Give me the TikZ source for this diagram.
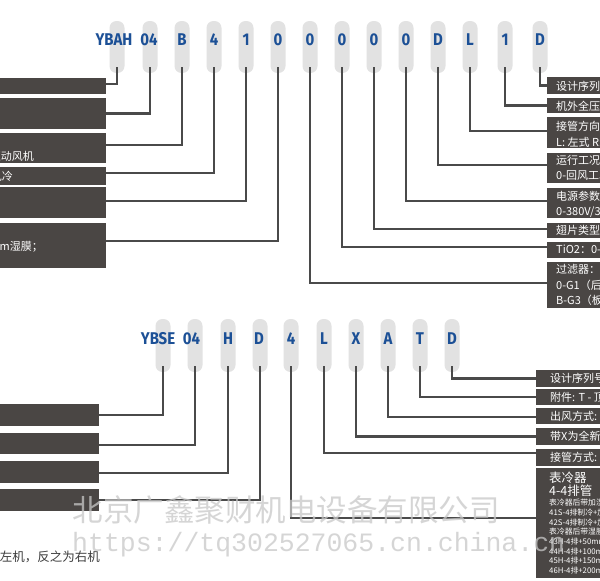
\documentclass[tikz,border=0pt]{standalone}
\usepackage{fontspec}
\usepackage{graphicx}
\setmainfont{Fira Sans}
\newfontfamily\cjk{Noto Sans CJK SC}
\newfontfamily\wmmono{Liberation Mono}
\definecolor{boxc}{RGB}{74,70,68}
\definecolor{linec}{RGB}{74,74,74}
\definecolor{pillc}{RGB}{226,226,226}
\definecolor{codec}{RGB}{28,80,150}
\definecolor{notec}{RGB}{60,60,60}
\definecolor{wmc}{RGB}{200,200,200}
\newcommand\codetxt[1]{\scalebox{0.88}[1]{#1}}
\tikzset{
  pill/.style={fill=pillc, rounded corners=7pt, minimum width=15pt, inner sep=0pt, draw=none},
  toppill/.style={pill, minimum height=52pt},
  botpill/.style={pill, minimum height=53pt},
  code/.style={text=codec, font=\bfseries\fontsize{17}{17}\selectfont, inner sep=0pt},
  darkbox/.style={fill=boxc, draw=none, inner sep=0pt},
  conn/.style={draw=linec, line width=2.2pt},
  boxtext/.style={text=white, font=\cjk\fontsize{11}{11}\selectfont, inner sep=0pt, anchor=west},
  bigtext/.style={text=white, font=\cjk\fontsize{12.5}{12.5}\selectfont, inner sep=0pt, anchor=west},
  smalltext/.style={text=white, font=\cjk\fontsize{7.8}{7.8}\selectfont, inner sep=0pt, anchor=west},
}
\begin{document}
\begin{tikzpicture}[x=1pt,y=-1pt]
\useasboundingbox (0,0) rectangle (600,581);
\clip (0,0) rectangle (600,581);
\fill[white] (0,0) rectangle (600,581);

% ---------- top code pills ----------
\foreach \n/\x in {1/117,2/150,3/182,4/214,5/246,6/278,7/310,8/342,9/374,10/406,11/438,12/470,13/505,14/540}
  \node[toppill] (p\n) at (\x,47) {};
\node[code] (c1) at (114,40) {\codetxt{YBAH}};
\node[code] (c2) at (149,40) {\codetxt{04}};
\node[code] (c3) at (182,40) {\codetxt{B}};
\node[code] (c4) at (214,40) {\codetxt{4}};
\node[code] (c5) at (246,40) {\codetxt{1}};
\node[code] (c6) at (278,40) {\codetxt{0}};
\node[code] (c7) at (310,40) {\codetxt{0}};
\node[code] (c8) at (342,40) {\codetxt{0}};
\node[code] (c9) at (374,40) {\codetxt{0}};
\node[code] (c10) at (406,40) {\codetxt{0}};
\node[code] (c11) at (438,40) {\codetxt{D}};
\node[code] (c12) at (470,40) {\codetxt{L}};
\node[code] (c13) at (505,40) {\codetxt{1}};
\node[code] (c14) at (540,40) {\codetxt{D}};

% ---------- top left boxes ----------
\node[darkbox, minimum width=116pt, minimum height=16pt] (L1) at (48,86) {};
\node[darkbox, minimum width=116pt, minimum height=31pt] (L2) at (48,113.5) {};
\node[darkbox, minimum width=116pt, minimum height=30pt] (L3) at (48,148) {};
\node[darkbox, minimum width=116pt, minimum height=18pt] (L4) at (48,176) {};
\node[darkbox, minimum width=116pt, minimum height=31pt] (L5) at (48,202.5) {};
\node[darkbox, minimum width=116pt, minimum height=45pt] (L6) at (48,245.5) {};
\node[boxtext, anchor=east] (tL3) at (34,156) {EC直驱动风机};
\node[boxtext, anchor=east] (tL4) at (13,176) {风冷};
\node[boxtext, anchor=east] (tL5) at (4,208) {，};
\node[boxtext, anchor=east] (tL6) at (43,247) {100mm湿膜；};

% ---------- top right boxes ----------
\node[darkbox, minimum width=63pt, minimum height=17pt] (R1) at (578.5,85.5) {};
\node[darkbox, minimum width=63pt, minimum height=15pt] (R2) at (578.5,105.5) {};
\node[darkbox, minimum width=63pt, minimum height=31pt] (R3) at (578.5,132.5) {};
\node[darkbox, minimum width=63pt, minimum height=30pt] (R4) at (578.5,168) {};
\node[darkbox, minimum width=63pt, minimum height=30pt] (R5) at (578.5,203) {};
\node[darkbox, minimum width=63pt, minimum height=15pt] (R6) at (578.5,230.5) {};
\node[darkbox, minimum width=63pt, minimum height=16pt] (R7) at (578.5,250) {};
\node[darkbox, minimum width=63pt, minimum height=46pt] (R8) at (578.5,285) {};
\node[boxtext] (tR1) at (556,86) {设计序列号};
\node[boxtext] (tR2) at (556,106) {机外全压};
\node[boxtext] (tR3a) at (556,126) {接管方向：};
\node[boxtext] (tR3b) at (556,142) {L: 左式 R: 右式};
\node[boxtext] (tR4a) at (556,160) {运行工况：};
\node[boxtext] (tR4b) at (556,176) {0-回风工况};
\node[boxtext] (tR5a) at (556,196) {电源参数：};
\node[boxtext] (tR5b) at (556,212) {0-380V/3N/50Hz};
\node[boxtext] (tR6) at (556,230) {翅片类型：};
\node[boxtext] (tR7) at (556,250) {TiO2：0-无};
\node[boxtext] (tR8a) at (556,269) {过滤器：};
\node[boxtext] (tR8b) at (556,285) {0-G1（后置）};
\node[boxtext] (tR8c) at (556,300) {B-G3（板式）};

% ---------- top connectors ----------
\draw[conn] ([yshift=6pt]p1.south) |- ([yshift=2pt]L1.east);
\draw[conn] ([yshift=6pt]p2.south) |- (L2.east);
\draw[conn] ([yshift=6pt]p3.south) |- ([yshift=3pt]L3.east);
\draw[conn] ([yshift=6pt]p4.south) |- ([yshift=3pt]L4.east);
\draw[conn] ([yshift=6pt]p5.south) |- ([yshift=1.5pt]L5.east);
\draw[conn] ([yshift=6pt]p6.south) |- ([yshift=4.5pt]L6.east);
\draw[conn] ([yshift=6pt]p7.south) |- ([yshift=2pt]R8.west);
\draw[conn] ([yshift=6pt]p8.south) |- ([yshift=3pt]R7.west);
\draw[conn] ([yshift=6pt]p9.south) |- ([yshift=1.5pt]R6.west);
\draw[conn] ([yshift=6pt]p10.south) |- ([yshift=2pt]R5.west);
\draw[conn] ([yshift=6pt]p11.south) |- ([yshift=3pt]R4.west);
\draw[conn] ([yshift=6pt]p12.south) |- ([yshift=1.5pt]R3.west);
\draw[conn] ([yshift=6pt]p13.south) |- (R2.west);
\draw[conn] ([yshift=6pt]p14.south) |- (R1.west);

% ---------- bottom code pills ----------
\foreach \n/\x in {1/163,2/195,3/228,4/260,5/291,6/324,7/356,8/388,9/420,10/452}
  \node[botpill] (q\n) at (\x,345.5) {};
\node[code] (d1) at (158,339) {\codetxt{YBSE}};
\node[code] (d2) at (191.5,339) {\codetxt{04}};
\node[code] (d3) at (228,339) {\codetxt{H}};
\node[code] (d4) at (259,339) {\codetxt{D}};
\node[code] (d5) at (291,339) {\codetxt{4}};
\node[code] (d6) at (324,339) {\codetxt{L}};
\node[code] (d7) at (356,339) {\codetxt{X}};
\node[code] (d8) at (388,339) {\codetxt{A}};
\node[code] (d9) at (420,339) {\codetxt{T}};
\node[code] (d10) at (452,339) {\codetxt{D}};

% ---------- bottom left boxes ----------
\node[darkbox, minimum width=109pt, minimum height=22pt] (BL1) at (44.5,415) {};
\node[darkbox, minimum width=109pt, minimum height=21pt] (BL2) at (44.5,443.5) {};
\node[darkbox, minimum width=109pt, minimum height=22pt] (BL3) at (44.5,472) {};
\node[darkbox, minimum width=109pt, minimum height=22pt] (BL4) at (44.5,500) {};

% ---------- bottom right boxes ----------
\node[darkbox, minimum width=74pt, minimum height=17pt] (BR1) at (573,378.5) {};
\node[darkbox, minimum width=74pt, minimum height=16pt] (BR2) at (573,397) {};
\node[darkbox, minimum width=74pt, minimum height=16pt] (BR3) at (573,416) {};
\node[darkbox, minimum width=74pt, minimum height=17pt] (BR4) at (573,436.5) {};
\node[darkbox, minimum width=74pt, minimum height=17pt] (BR5) at (573,457.5) {};
\node[darkbox, minimum width=74pt, minimum height=110pt] (BR6) at (573,523) {};
\node[boxtext] (tB1) at (550,378) {设计序列号};
\node[boxtext] (tB2) at (550,397) {附件: T - 顶板};
\node[boxtext] (tB3) at (550,416) {出风方式: 上出风};
\node[boxtext] (tB4) at (550,436) {带X为全新风};
\node[boxtext] (tB5) at (550,457) {接管方式: 左式};
\node[bigtext] (tB6a) at (549,478) {表冷器};
\node[bigtext] (tB6b) at (549,491) {4-4排管};
\node[smalltext] (tB6c) at (549,503) {表冷器后带加湿段};
\node[smalltext] (tB6d) at (549,513) {41S-4排制冷+加湿};
\node[smalltext] (tB6e) at (549,523) {42S-4排制冷+加湿};
\node[smalltext] (tB6f) at (549,532) {表冷器后带湿膜};
\node[smalltext] (tB6g) at (549,542) {43H-4排+50mm湿膜};
\node[smalltext] (tB6h) at (549,552) {44H-4排+100mm湿膜};
\node[smalltext] (tB6i) at (549,561) {45H-4排+150mm湿膜};
\node[smalltext] (tB6j) at (549,571) {46H-4排+200mm湿膜};

% ---------- bottom connectors ----------
\draw[conn] ([yshift=6pt]q1.south) |- (BL1.east);
\draw[conn] ([yshift=6pt]q2.south) |- ([yshift=-1.5pt]BL2.east);
\draw[conn] ([yshift=6pt]q3.south) |- ([yshift=-1pt]BL3.east);
\draw[conn] ([yshift=6pt]q4.south) |- (BL4.east);
\draw[conn] ([yshift=6pt]q5.south) |- ([yshift=5pt]BR6.west);
\draw[conn] ([yshift=6pt]q6.south) |- ([yshift=4.5pt]BR5.west);
\draw[conn] ([yshift=6pt]q7.south) |- (BR4.west);
\draw[conn] ([yshift=6pt]q8.south) |- ([yshift=-1pt]BR3.west);
\draw[conn] ([yshift=6pt]q9.south) |- (BR2.west);
\draw[conn] ([yshift=6pt]q10.south) |- (BR1.west);

% ---------- note ----------
\node[text=notec, font=\cjk\fontsize{12.5}{12.5}\selectfont, inner sep=0pt, anchor=east] (note) at (100,557) {注：接管在左侧为左机，反之为右机};

% ---------- watermark ----------
\node[text=wmc, opacity=0.75, font=\cjk\fontsize{30.5}{30.5}\selectfont, inner sep=0pt] (wm1) at (286,510) {北京广鑫聚财机电设备有限公司};
\node[text=wmc, opacity=0.75, font=\wmmono\fontsize{26.5}{26.5}\selectfont, inner sep=0pt, anchor=west] (wm2) at (72,545) {https://tq302527065.cn.china.cn};
\end{tikzpicture}
\end{document}
